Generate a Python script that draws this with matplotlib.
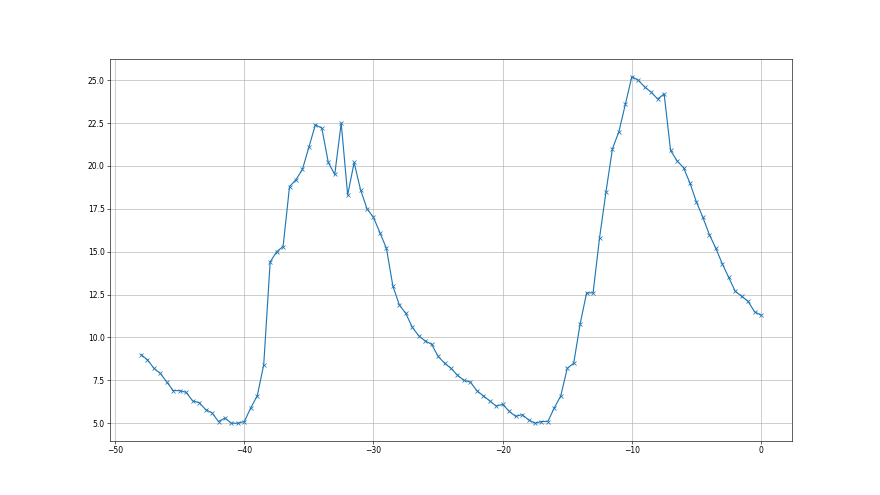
import numpy as np
import matplotlib
matplotlib.use("Agg")
import matplotlib.pyplot as plt

# x runs from -48 to 0 in steps of 0.5
x_start = -48.0
x_step = 0.5

values = [
    9.0, 8.7, 8.2, 7.9, 7.4, 6.9, 6.9, 6.8, 6.3, 6.2,
    5.8, 5.6, 5.1, 5.3, 5.0, 5.0, 5.1, 5.9, 6.6, 8.4,
    14.4, 15.0, 15.3, 18.8, 19.2, 19.8, 21.1, 22.4, 22.2, 20.2,
    19.5, 22.5, 18.3, 20.2, 18.6, 17.5, 17.0, 16.1, 15.2, 13.0,
    11.9, 11.4, 10.6, 10.1, 9.8, 9.6, 8.9, 8.5, 8.2, 7.8,
    7.5, 7.4, 6.9, 6.6, 6.3, 6.0, 6.1, 5.7, 5.4, 5.5,
    5.2, 5.0, 5.1, 5.1, 5.9, 6.6, 8.2, 8.5, 10.8, 12.6,
    12.6, 15.8, 18.5, 21.0, 22.0, 23.6, 25.2, 25.0, 24.6, 24.3,
    23.9, 24.2, 20.9, 20.3, 19.9, 19.0, 17.9, 17.0, 16.0, 15.2,
    14.3, 13.5, 12.7, 12.4, 12.1, 11.5, 11.3,
]

x = x_start + x_step * np.arange(len(values))

fig = plt.figure(figsize=(16, 9), dpi=55)
ax = fig.add_subplot(111)
ax.plot(x, values, marker="x")
ax.grid(True)

fig.savefig("out.png", dpi=55)
